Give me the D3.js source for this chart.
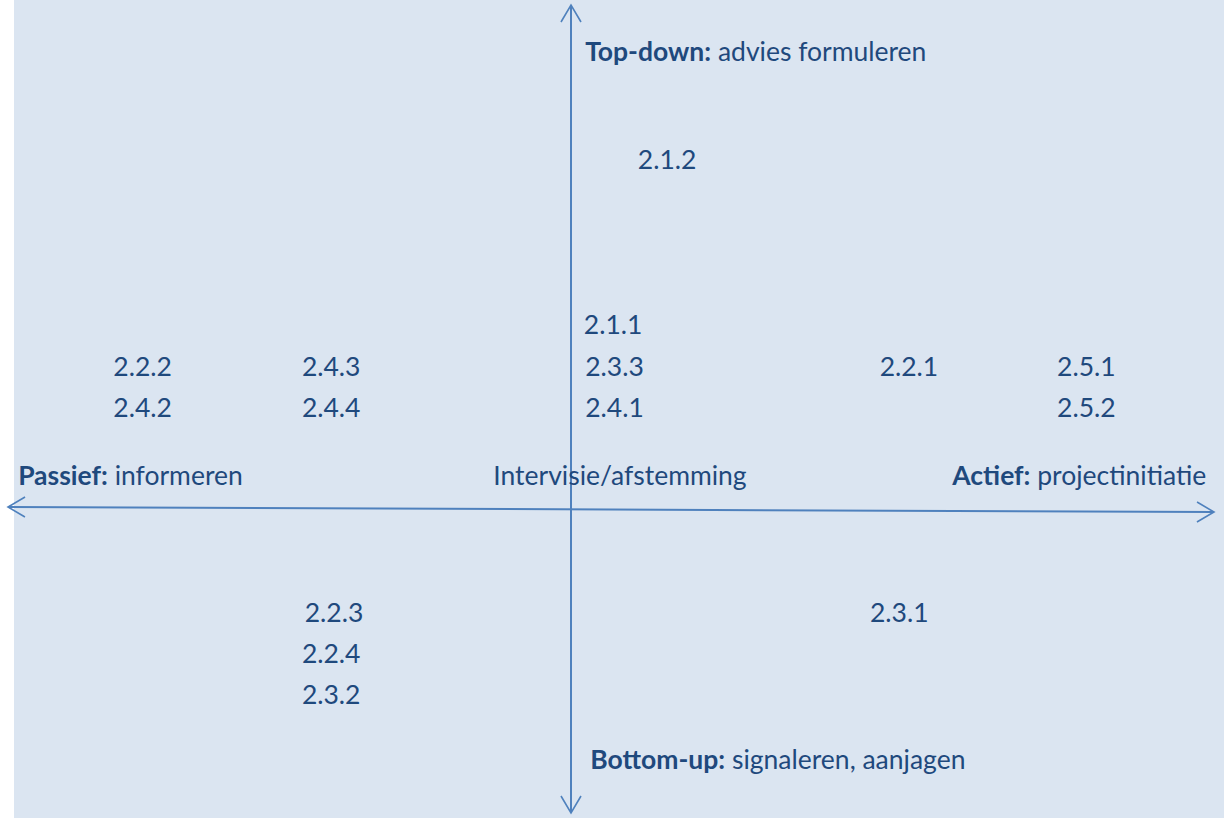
<!DOCTYPE html>
<html>
<head>
<meta charset="utf-8">
<script src="https://cdn.jsdelivr.net/npm/d3@7"></script>
<style>
  html, body { margin: 0; padding: 0; background: #fff; }
  svg { display: block; }
  text { font-family: Lato, "Open Sans", sans-serif; fill: #1f497d; }
</style>
</head>
<body>
<div class="chart"></div>
<script>
// item codes and their place on the two dimensions (passief..actief, bottom-up..top-down)
const codes  = ['2.1.2', '2.1.1', '2.3.3', '2.4.1', '2.2.2', '2.4.3', '2.4.2', '2.4.4',
                '2.2.1', '2.5.1', '2.5.2', '2.2.3', '2.2.4', '2.3.2', '2.3.1'];
const codeX  = [1.04, 0.2, 0.22, 0.22, -8.13, -4.78, -8.13, -4.78,
                4.8, 7.56, 7.56, -4.73, -4.78, -4.78, 4.65];
const codeY  = [6.75, 3.47, 2.64, 1.83, 2.64, 2.64, 1.83, 1.83,
                2.64, 2.64, 1.83, -3.72, -5.07, -6.41, -3.72];

// axis labels: bold part, normal part, position
const axisBold  = ['Top-down:', 'Passief:', '', 'Actief:', 'Bottom-up:'];
const axisText  = [' advies formuleren', ' informeren', 'Intervisie/afstemming', ' projectinitiatie', ' signaleren, aanjagen'];
const axisLabelX = [0.22, -9.82, -1.38, 5.93, 0.3];
const axisLabelY = [8.89, 0.48, 0.48, 0.48, -8.55];

// arrow ends: [x1, y1, x2, y2]
const hAxis = [-10, 0.04, 10, -0.1];
const vAxis = [0, 10, 0, -10];

const width = 1224;
const height = 818;

const x = d3.scaleLinear()
  .domain([-10, 0, 10])
  .range([8, 571, 1214]);

const y = d3.scaleLinear()
  .domain([-10, 0, 10])
  .range([813, 509, 5]);

const svg = d3.select('.chart').append('svg')
    .attr('width', width)
    .attr('height', height);

svg.append('rect')
    .attr('x', 14)
    .attr('y', 0)
    .attr('width', width - 14)
    .attr('height', height)
    .style('fill', '#dbe5f1');

const axisColor = '#4f81bd';

function arrow(ends) {
  const [x1, y1, x2, y2] = [x(ends[0]), y(ends[1]), x(ends[2]), y(ends[3])];
  const g = svg.append('g');
  g.append('line')
    .attr('x1', x1).attr('y1', y1)
    .attr('x2', x2).attr('y2', y2)
    .style('stroke', axisColor)
    .style('stroke-width', 2);
  const back = 17, side = 10;
  [[x1, y1, x2, y2], [x2, y2, x1, y1]].forEach(([tx, ty, fx, fy]) => {
    const len = Math.hypot(tx - fx, ty - fy);
    const ux = (tx - fx) / len, uy = (ty - fy) / len;
    const bx = tx - ux * back, by = ty - uy * back;
    g.append('path')
      .attr('d', `M${bx - uy * side},${by + ux * side} L${tx},${ty} L${bx + uy * side},${by - ux * side}`)
      .style('fill', 'none')
      .style('stroke', axisColor)
      .style('stroke-width', 1.6);
  });
}

arrow(hAxis);
arrow(vAxis);

const fontSize = 26.5;

svg.selectAll('.code')
  .data(codes)
  .enter().append('text')
    .attr('class', 'code')
    .attr('x', (d, i) => x(codeX[i]))
    .attr('y', (d, i) => y(codeY[i]))
    .attr('font-size', fontSize)
    .text(d => d);

const labels = svg.selectAll('.axis-label')
  .data(axisText)
  .enter().append('text')
    .attr('class', 'axis-label')
    .attr('x', (d, i) => x(axisLabelX[i]))
    .attr('y', (d, i) => y(axisLabelY[i]))
    .attr('font-size', fontSize);

labels.append('tspan')
    .attr('font-weight', 'bold')
    .text((d, i) => axisBold[i]);

labels.append('tspan')
    .style('white-space', 'pre')
    .attr('xml:space', 'preserve')
    .text(d => d);
</script>
</body>
</html>
